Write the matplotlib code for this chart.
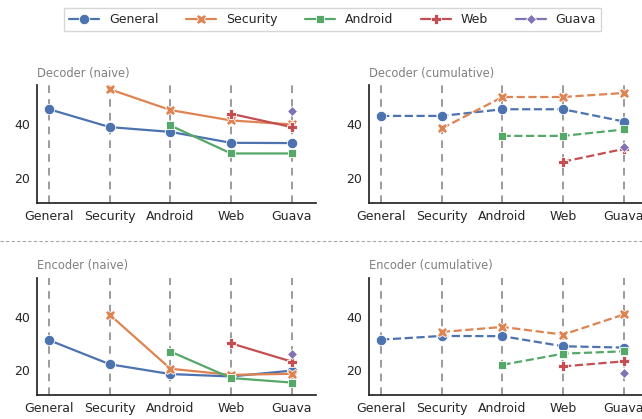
import matplotlib
matplotlib.use("Agg")
import matplotlib.pyplot as plt
from matplotlib.lines import Line2D
import seaborn as sns

sns.set_theme(style="ticks")
plt.rcParams["font.family"] = ["DejaVu Sans"]

categories = ["General", "Security", "Android", "Web", "Guava"]
series = ["General", "Security", "Android", "Web", "Guava"]
colors = sns.color_palette("deep", 5)
markers = ["o", "X", "s", "P", "D"]
msizes = [7.5, 7.5, 6, 7.5, 5]

# values per panel: one list per series (None = not evaluated)
dec_naive = {
    "General": [45.7, 39.0, 37.2, 33.1, 33.0],
    "Security": [None, 53.2, 45.4, 41.5, 40.0],
    "Android": [None, None, 39.6, 29.1, 29.1],
    "Web": [None, None, None, 44.0, 39.0],
    "Guava": [None, None, None, None, 45.0],
}
dec_cum = {
    "General": [43.2, 43.2, 45.7, 45.7, 41.1],
    "Security": [None, 38.5, 50.3, 50.3, 51.8],
    "Android": [None, None, 35.7, 35.7, 38.1],
    "Web": [None, None, None, 26.0, 30.8],
    "Guava": [None, None, None, None, 31.7],
}
enc_naive = {
    "General": [31.2, 22.1, 18.4, 17.5, 19.7],
    "Security": [None, 40.8, 20.4, 18.1, 18.5],
    "Android": [None, None, 26.9, 16.9, 15.2],
    "Web": [None, None, None, 30.0, 23.1],
    "Guava": [None, None, None, None, 26.0],
}
enc_cum = {
    "General": [31.4, 32.8, 32.7, 28.9, 28.4],
    "Security": [None, 34.3, 36.2, 33.3, 40.9],
    "Android": [None, None, 21.9, 26.1, 27.0],
    "Web": [None, None, None, 21.3, 23.2],
    "Guava": [None, None, None, None, 18.7],
}

panels = [
    ("Decoder (naive)", dec_naive, "-", [0.0576, 0.5155, 0.4346, 0.2816]),
    ("Decoder (cumulative)", dec_cum, "--", [0.5748, 0.5155, 0.4346, 0.2816]),
    ("Encoder (naive)", enc_naive, "-", [0.0576, 0.0573, 0.4346, 0.280]),
    ("Encoder (cumulative)", enc_cum, "--", [0.5748, 0.0573, 0.4346, 0.280]),
]

fig = plt.figure(figsize=(6.42, 4.19), dpi=100)

for title, data, ls, pos in panels:
    ax = fig.add_axes(pos)
    for i in range(len(categories)):
        ax.axvline(i, color="gray", ls=(0, (5, 4)), lw=1.1, zorder=0)
    for k, name in enumerate(series):
        pts = [(i, v) for i, v in enumerate(data[name]) if v is not None]
        xs = [p[0] for p in pts]
        ys = [p[1] for p in pts]
        ax.plot(xs, ys, ls=ls, color=colors[k], lw=1.6, marker=markers[k],
                markersize=msizes[k], markeredgecolor="white", markeredgewidth=0.6)
    ax.set_xlim(-0.2, 4.4)
    ax.set_ylim(10.5, 54.8)
    ax.set_xticks(range(len(categories)))
    ax.set_xticklabels(categories)
    ax.set_yticks([20, 40])
    ax.tick_params(axis="both", length=0, labelsize=9, pad=5)
    ax.set_title(title, loc="left", color="gray", fontsize=8.3, pad=6)
    sns.despine(ax=ax)

handles = [Line2D([], [], color=colors[k], lw=1.6, marker=markers[k],
                  markersize=msizes[k], markeredgecolor="white", markeredgewidth=0.6)
           for k in range(len(series))]
fig.legend(handles, series, loc="upper center", bbox_to_anchor=(0.518, 0.995),
           ncol=5, fontsize=9, frameon=True, fancybox=False, columnspacing=2.2,
           handlelength=2.4)

fig.add_artist(Line2D([0, 1], [0.425, 0.425], transform=fig.transFigure,
                      color="gray", ls=(0, (3, 2)), lw=0.8, alpha=0.7))

fig.savefig("out.png", dpi=100)
